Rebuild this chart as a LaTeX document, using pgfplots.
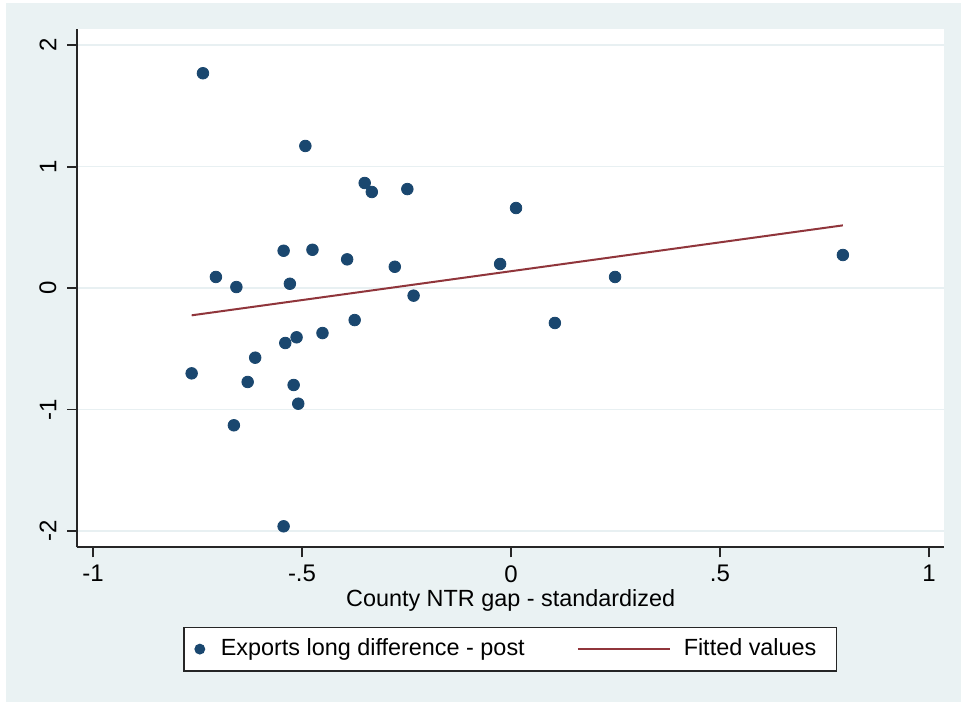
\documentclass[border=0pt]{standalone}
\usepackage{pgfplots}
\pgfplotsset{compat=1.18}
\usepackage{fontspec}
\setmainfont{Liberation Sans}
\definecolor{stbg}{RGB}{234,242,243}
\definecolor{stgrid}{RGB}{232,240,242}
\definecolor{stnavy}{RGB}{26,71,111}
\definecolor{stmaroon}{RGB}{144,53,59}
\pgfplotsset{
  markleg/.style={legend image code/.code={\path[draw=none,fill=none] (-8pt,0pt) -- (10.5pt,0pt); \draw[##1, mark size=2.3pt] plot coordinates {(0pt,0pt)};}},
  lineleg/.style={legend image code/.code={\draw[##1] (0pt,0pt) -- (46pt,0pt); \path[draw=none,fill=none] (0pt,0pt) -- (53pt,0pt);}},
}
\begin{document}
\fontsize{11.7}{14}\selectfont
\begin{tikzpicture}
\fill[white] (0pt,0pt) rectangle (480.5pt,-351pt);
\fill[stbg] (3pt,-1.5pt) rectangle (480.5pt,-351pt);
\begin{axis}[
  at={(38.65pt,-273.65pt)}, anchor=south west,
  scale only axis, width=433.35pt, height=259pt,
  xmin=-1.0376, xmax=1.036, ymin=-2.136, ymax=2.131,
  axis background/.style={fill=white},
  axis x line*=bottom, axis y line*=left,
  axis line style={-, line width=0.9pt, black!85},
  tick align=outside, major tick length=5pt,
  every tick/.style={line width=0.9pt, black!85},
  xtick={-1,-0.5,0,0.5,1}, xticklabels={-1,-.5,0,.5,1},
  ytick={-2,-1,0,1,2}, yticklabels={-2,-1,0,1,2},
  minor tick num=0,
  xticklabel style={anchor=north, inner sep=0pt, font=\fontsize{12}{14}\selectfont},
  xticklabel shift=3.85pt,
  yticklabel style={rotate=90, anchor=south, inner sep=0pt, font=\fontsize{12}{14}\selectfont},
  yticklabel shift=5.3pt,
  ymajorgrids, xmajorgrids=false,
  major grid style={stgrid, line width=0.8pt},
  xlabel={County NTR gap - standardized},
  xlabel style={at={(axis description cs:0.5,0)}, anchor=base, yshift=-29.7pt, inner sep=0pt, font=\fontsize{11.7}{14}\selectfont},
  legend columns=2,
  legend style={at={(0.12196,-0.15328)}, anchor=north west,
    draw=black!85, line width=0.8pt, fill=white,
    inner xsep=0pt, inner ysep=5.3pt,
    nodes={inner sep=0pt, text height=8.5pt, text depth=2.5pt, anchor=west, font=\fontsize{11.7}{14}\selectfont},
    /tikz/every even column/.append style={column sep=26pt}},
]
\addplot[only marks, mark=*, mark size=2.9pt, stnavy, mark options={fill=stnavy, draw=stnavy}, markleg]
  coordinates {
  (-0.737,1.769) (-0.492,1.170) (-0.350,0.865) (-0.333,0.791) (-0.248,0.815)
  (0.012,0.659) (-0.544,0.307) (-0.475,0.315) (-0.392,0.236) (-0.278,0.175)
  (-0.026,0.198) (-0.706,0.091) (-0.657,0.008) (-0.529,0.035) (-0.233,-0.063)
  (0.249,0.091) (0.794,0.272) (-0.374,-0.264) (-0.451,-0.371) (-0.513,-0.406)
  (-0.540,-0.453) (-0.612,-0.574) (-0.764,-0.703) (-0.630,-0.774) (-0.520,-0.799)
  (-0.509,-0.953) (-0.663,-1.131) (-0.544,-1.963) (0.105,-0.288)
  };
\addlegendentry{Exports long difference - post}
\addplot[stmaroon, line width=1pt, lineleg]
  coordinates {(-0.764,-0.225) (0.794,0.516)};
\addlegendentry{Fitted values\hspace*{10pt}}
\end{axis}
\end{tikzpicture}
\end{document}
